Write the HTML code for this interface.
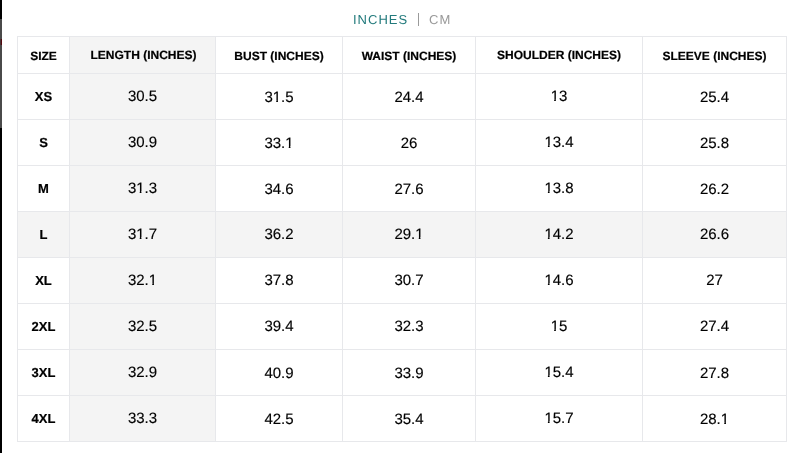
<!DOCTYPE html>
<html><head><meta charset="utf-8"><title>Size chart</title>
<style>
*{margin:0;padding:0;box-sizing:border-box}
html,body{width:802px;height:453px;overflow:hidden;background:#fff}
body{position:relative;will-change:transform;text-rendering:geometricPrecision;font-family:"Liberation Sans",sans-serif;color:#000}
.a{position:absolute}
.t{position:absolute;text-align:center;white-space:nowrap;line-height:20px;height:20px}
.h{font-weight:bold;font-size:12px;-webkit-text-stroke:0.2px #000}
.s{font-weight:bold;font-size:13px;-webkit-text-stroke:0.2px #000}
.n{font-size:15px;-webkit-text-stroke:0.15px #000}
.o{clip-path:polygon(-1px -1px,10px -1px,10px 11.2px,5.2px 11.2px,5.2px 18px,3.5px 18px,3.5px 11.2px,-1px 11.2px)}
.vl{position:absolute;width:1px;background:#e7e8eb}
.hl{position:absolute;height:1px;background:#e7e8eb}
.ti{top:12px;font-size:13px;letter-spacing:1px;line-height:16px}

</style></head><body>

<div class="a" style="left:0;top:0;width:2px;height:19px;background:#000"></div>
<div class="a" style="left:0;top:19px;width:2px;height:109px;background:#4a4a4a"></div>
<div class="a" style="left:0;top:39px;width:1px;height:6px;background:#4a3234"></div>
<div class="a" style="left:1px;top:39px;width:1px;height:6px;background:#52080e"></div>
<div class="a" style="left:0;top:128px;width:2px;height:325px;background:#000"></div>
<div class="a ti" style="left:353px;color:#227a7c">INCHES</div>
<div class="a" style="left:418px;top:13px;width:1px;height:13px;background:#9a9a9a"></div>
<div class="a ti" style="left:429px;color:#999">CM</div>
<div class="a" style="left:70px;top:37px;width:145px;height:404px;background:#f4f4f4"></div>
<div class="a" style="left:18px;top:212px;width:768px;height:45px;background:#f4f4f4"></div>
<div class="vl" style="left:17px;top:36px;height:406px"></div>
<div class="vl" style="left:69px;top:36px;height:406px"></div>
<div class="vl" style="left:215px;top:36px;height:406px"></div>
<div class="vl" style="left:342px;top:36px;height:406px"></div>
<div class="vl" style="left:475px;top:36px;height:406px"></div>
<div class="vl" style="left:642px;top:36px;height:406px"></div>
<div class="vl" style="left:786px;top:36px;height:406px"></div>
<div class="hl" style="top:36px;left:17px;width:770px"></div>
<div class="hl" style="top:73px;left:17px;width:770px"></div>
<div class="hl" style="top:119px;left:17px;width:770px"></div>
<div class="hl" style="top:165px;left:17px;width:770px"></div>
<div class="hl" style="top:211px;left:17px;width:770px"></div>
<div class="hl" style="top:257px;left:17px;width:770px"></div>
<div class="hl" style="top:303px;left:17px;width:770px"></div>
<div class="hl" style="top:349px;left:17px;width:770px"></div>
<div class="hl" style="top:395px;left:17px;width:770px"></div>
<div class="hl" style="top:441px;left:17px;width:770px"></div>
<div class="t h" style="left:18px;width:51px;top:45.84px">SIZE</div>
<div class="t h" style="left:71px;width:145px;top:44.84px">LENGTH (INCHES)</div>
<div class="t h" style="left:216px;width:126px;top:45.84px">BUST (INCHES)</div>
<div class="t h" style="left:343px;width:132px;top:45.84px">WAIST (INCHES)</div>
<div class="t h" style="left:476px;width:166px;top:44.84px">SHOULDER (INCHES)</div>
<div class="t h" style="left:643px;width:143px;top:45.84px">SLEEVE (INCHES)</div>
<div class="t s" style="left:18px;width:51px;top:86.50px">XS</div>
<div class="t n g" style="left:70px;width:145px;top:86.80px">30.5</div>
<div class="t n" style="left:216px;width:126px;top:87.80px">3<span class="o">1</span>.5</div>
<div class="t n" style="left:343px;width:132px;top:87.80px">24.4</div>
<div class="t n" style="left:476px;width:166px;top:86.80px"><span class="o">1</span>3</div>
<div class="t n" style="left:643px;width:143px;top:87.80px">25.4</div>
<div class="t s" style="left:18px;width:51px;top:132.50px">S</div>
<div class="t n g" style="left:70px;width:145px;top:132.80px">30.9</div>
<div class="t n" style="left:216px;width:126px;top:133.80px">33.<span class="o">1</span></div>
<div class="t n" style="left:343px;width:132px;top:133.80px">26</div>
<div class="t n" style="left:476px;width:166px;top:132.80px"><span class="o">1</span>3.4</div>
<div class="t n" style="left:643px;width:143px;top:133.80px">25.8</div>
<div class="t s" style="left:18px;width:51px;top:178.50px">M</div>
<div class="t n g" style="left:70px;width:145px;top:178.80px">3<span class="o">1</span>.3</div>
<div class="t n" style="left:216px;width:126px;top:179.80px">34.6</div>
<div class="t n" style="left:343px;width:132px;top:179.80px">27.6</div>
<div class="t n" style="left:476px;width:166px;top:178.80px"><span class="o">1</span>3.8</div>
<div class="t n" style="left:643px;width:143px;top:179.80px">26.2</div>
<div class="t s" style="left:18px;width:51px;top:224.50px">L</div>
<div class="t n g" style="left:70px;width:145px;top:224.80px">3<span class="o">1</span>.7</div>
<div class="t n g" style="left:216px;width:126px;top:224.80px">36.2</div>
<div class="t n g" style="left:343px;width:132px;top:224.80px">29.<span class="o">1</span></div>
<div class="t n g" style="left:476px;width:166px;top:224.80px"><span class="o">1</span>4.2</div>
<div class="t n g" style="left:643px;width:143px;top:224.80px">26.6</div>
<div class="t s" style="left:18px;width:51px;top:270.50px">XL</div>
<div class="t n g" style="left:70px;width:145px;top:270.80px">32.<span class="o">1</span></div>
<div class="t n" style="left:216px;width:126px;top:270.80px">37.8</div>
<div class="t n" style="left:343px;width:132px;top:270.80px">30.7</div>
<div class="t n" style="left:476px;width:166px;top:270.80px"><span class="o">1</span>4.6</div>
<div class="t n" style="left:643px;width:143px;top:270.80px">27</div>
<div class="t s" style="left:18px;width:51px;top:316.50px">2XL</div>
<div class="t n g" style="left:70px;width:145px;top:316.80px">32.5</div>
<div class="t n" style="left:216px;width:126px;top:316.80px">39.4</div>
<div class="t n" style="left:343px;width:132px;top:316.80px">32.3</div>
<div class="t n" style="left:476px;width:166px;top:316.80px"><span class="o">1</span>5</div>
<div class="t n" style="left:643px;width:143px;top:316.80px">27.4</div>
<div class="t s" style="left:18px;width:51px;top:362.50px">3XL</div>
<div class="t n g" style="left:70px;width:145px;top:362.80px">32.9</div>
<div class="t n" style="left:216px;width:126px;top:363.80px">40.9</div>
<div class="t n" style="left:343px;width:132px;top:363.80px">33.9</div>
<div class="t n" style="left:476px;width:166px;top:362.80px"><span class="o">1</span>5.4</div>
<div class="t n" style="left:643px;width:143px;top:363.80px">27.8</div>
<div class="t s" style="left:18px;width:51px;top:408.50px">4XL</div>
<div class="t n g" style="left:70px;width:145px;top:408.80px">33.3</div>
<div class="t n" style="left:216px;width:126px;top:409.80px">42.5</div>
<div class="t n" style="left:343px;width:132px;top:409.80px">35.4</div>
<div class="t n" style="left:476px;width:166px;top:408.80px"><span class="o">1</span>5.7</div>
<div class="t n" style="left:643px;width:143px;top:409.80px">28.<span class="o">1</span></div>
</body></html>
